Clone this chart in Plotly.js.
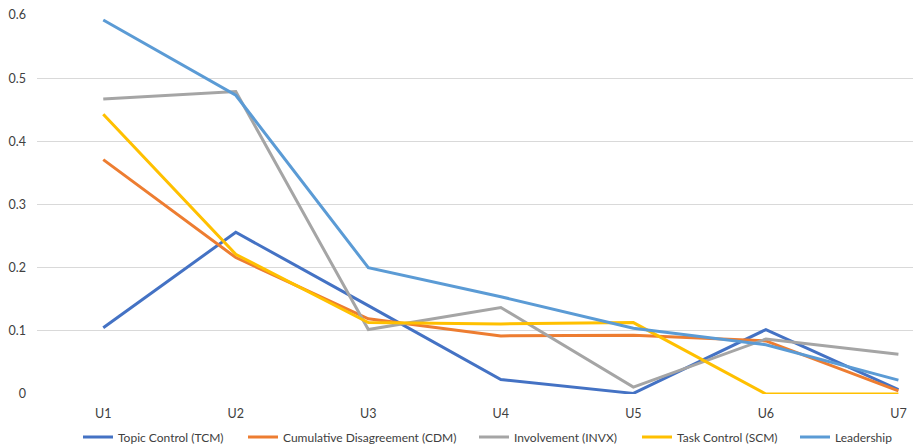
<!DOCTYPE html>
<html>
<head>
<meta charset="utf-8">
<script src="https://cdn.plot.ly/plotly-3.0.1.min.js"></script>
<style>
  html, body { margin: 0; padding: 0; background: #fff; }
  #chart { width: 913px; height: 448px; }
</style>
</head>
<body>
<div id="chart"></div>
<script>
// Categories along the x axis
const users = ["U1", "U2", "U3", "U4", "U5", "U6", "U7"];

// Series values per user
const topicControl = [0.105, 0.256, 0.140, 0.023, 0.001, 0.102, 0.007];
const cumulativeDisagreement = [0.371, 0.216, 0.119, 0.092, 0.093, 0.084, 0.005];
const involvement = [0.467, 0.479, 0.102, 0.137, 0.011, 0.087, 0.063];
const taskControl = [0.443, 0.221, 0.113, 0.111, 0.113, 0.000, 0.000];
const leadership = [0.592, 0.473, 0.200, 0.154, 0.104, 0.078, 0.022];

// Series names shown in the legend
const seriesNames = [
  "Topic Control (TCM)",
  "Cumulative Disagreement (CDM)",
  "Involvement (INVX)",
  "Task Control (SCM)",
  "Leadership"
];
const seriesValues = [topicControl, cumulativeDisagreement, involvement, taskControl, leadership];
const seriesColors = ["#4472C4", "#ED7D31", "#A5A5A5", "#FFC000", "#5B9BD5"];

// Each series gets its own legend box so the entries can be spaced along the bottom row
const legendIds = ["legend", "legend2", "legend3", "legend4", "legend5"];
const legendLeftPx = [88, 253, 484, 647, 805];

const margin = { l: 37, r: 0, t: 14.7, b: 54, autoexpand: false };
const plotWidth = 913 - margin.l - margin.r;
const plotHeight = 448 - margin.t - margin.b;
const legendInset = 10;
const legendCenterPx = 437;

const traces = seriesValues.map((vals, i) => ({
  type: "scatter",
  mode: "lines",
  name: seriesNames[i],
  legend: legendIds[i],
  x: users,
  y: vals,
  line: { color: seriesColors[i], width: 3 },
  hoverinfo: "x+y+name"
}));

const fontFamily = "Lato, 'Open Sans', sans-serif";
const textColor = "#404040";

const layout = {
  width: 913,
  height: 448,
  margin: margin,
  paper_bgcolor: "#ffffff",
  plot_bgcolor: "#ffffff",
  font: { family: fontFamily, size: 12, color: textColor },
  showlegend: true,
  xaxis: {
    type: "category",
    range: [-0.5, 6.11],
    showgrid: false,
    zeroline: false,
    showline: false,
    ticks: "",
    ticklabelstandoff: 10,
    tickfont: { family: fontFamily, size: 12.5, color: textColor }
  },
  yaxis: {
    range: [0, 0.6],
    dtick: 0.1,
    tickformat: "~g",
    showgrid: true,
    gridcolor: "#d9d9d9",
    gridwidth: 1,
    zeroline: false,
    showline: false,
    ticks: "",
    ticklabelstandoff: 10,
    tickfont: { family: fontFamily, size: 12.5, color: textColor }
  }
};

legendIds.forEach((id, i) => {
  layout[id] = {
    orientation: "h",
    x: (legendLeftPx[i] - legendInset - margin.l) / plotWidth,
    xanchor: "left",
    y: -(legendCenterPx - (448 - margin.b)) / plotHeight,
    yanchor: "middle",
    bgcolor: "rgba(0,0,0,0)",
    font: { family: fontFamily, size: 12, color: textColor }
  };
});

Plotly.newPlot("chart", traces, layout, { displayModeBar: false, staticPlot: true });
</script>
</body>
</html>
